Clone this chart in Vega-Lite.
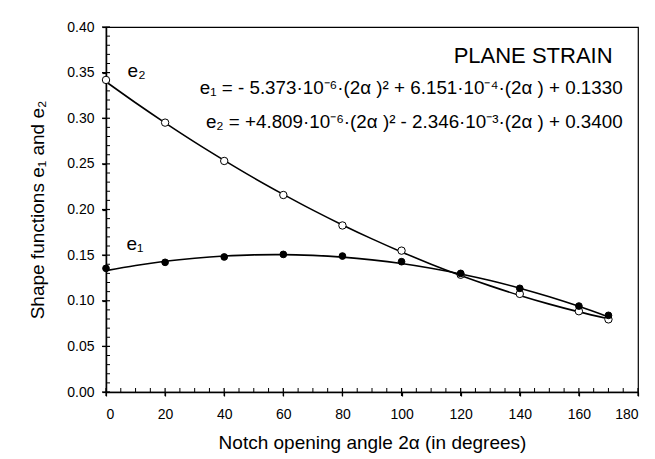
{
  "$schema": "https://vega.github.io/schema/vega-lite/v6.json",
  "width": 532,
  "height": 365,
  "autosize": {"type": "none"},
  "padding": {"left": 106, "top": 27, "right": 17, "bottom": 67},
  "background": "white",
  "config": {
    "view": {"stroke": "black", "strokeWidth": 1.2},
    "font": "Liberation Sans",
    "axis": {"domainColor": "black", "tickColor": "black", "labelColor": "black", "titleColor": "black", "grid": false, "labelFont": "Liberation Sans", "titleFont": "Liberation Sans", "titleFontWeight": "normal"}
  },
  "datasets": {
    "curves": [
      {"x": 0, "y": 0.1330, "series": "e1"}, {"x": 10, "y": 0.1386, "series": "e1"}, {"x": 20, "y": 0.1432, "series": "e1"}, {"x": 30, "y": 0.1466, "series": "e1"}, {"x": 40, "y": 0.1490, "series": "e1"}, {"x": 50, "y": 0.1503, "series": "e1"}, {"x": 60, "y": 0.1506, "series": "e1"}, {"x": 70, "y": 0.1497, "series": "e1"}, {"x": 80, "y": 0.1478, "series": "e1"}, {"x": 90, "y": 0.1448, "series": "e1"}, {"x": 100, "y": 0.1408, "series": "e1"}, {"x": 110, "y": 0.1356, "series": "e1"}, {"x": 120, "y": 0.1294, "series": "e1"}, {"x": 130, "y": 0.1222, "series": "e1"}, {"x": 140, "y": 0.1138, "series": "e1"}, {"x": 150, "y": 0.1044, "series": "e1"}, {"x": 160, "y": 0.0939, "series": "e1"}, {"x": 170, "y": 0.0823, "series": "e1"},
      {"x": 0, "y": 0.3400, "series": "e2"}, {"x": 10, "y": 0.3170, "series": "e2"}, {"x": 20, "y": 0.2950, "series": "e2"}, {"x": 30, "y": 0.2739, "series": "e2"}, {"x": 40, "y": 0.2539, "series": "e2"}, {"x": 50, "y": 0.2347, "series": "e2"}, {"x": 60, "y": 0.2166, "series": "e2"}, {"x": 70, "y": 0.1993, "series": "e2"}, {"x": 80, "y": 0.1831, "series": "e2"}, {"x": 90, "y": 0.1678, "series": "e2"}, {"x": 100, "y": 0.1535, "series": "e2"}, {"x": 110, "y": 0.1401, "series": "e2"}, {"x": 120, "y": 0.1277, "series": "e2"}, {"x": 130, "y": 0.1163, "series": "e2"}, {"x": 140, "y": 0.1058, "series": "e2"}, {"x": 150, "y": 0.0963, "series": "e2"}, {"x": 160, "y": 0.0878, "series": "e2"}, {"x": 170, "y": 0.0802, "series": "e2"}
    ],
    "e1pts": [
      {"x": 0, "y": 0.1355}, {"x": 20, "y": 0.1421}, {"x": 40, "y": 0.1480}, {"x": 60, "y": 0.1508}, {"x": 80, "y": 0.1490}, {"x": 100, "y": 0.1428}, {"x": 120, "y": 0.1300}, {"x": 140, "y": 0.1136}, {"x": 160, "y": 0.0942}, {"x": 170, "y": 0.0840}
    ],
    "e2pts": [
      {"x": 0, "y": 0.3420}, {"x": 20, "y": 0.2952}, {"x": 40, "y": 0.2532}, {"x": 60, "y": 0.2159}, {"x": 80, "y": 0.1825}, {"x": 100, "y": 0.1549}, {"x": 120, "y": 0.1285}, {"x": 140, "y": 0.1075}, {"x": 160, "y": 0.0885}, {"x": 170, "y": 0.0796}
    ],
    "xMajor": [{"v": 0}, {"v": 20}, {"v": 40}, {"v": 60}, {"v": 80}, {"v": 100}, {"v": 120}, {"v": 140}, {"v": 160}, {"v": 180}],
    "xMinor": [{"v": 5}, {"v": 10}, {"v": 15}, {"v": 25}, {"v": 30}, {"v": 35}, {"v": 45}, {"v": 50}, {"v": 55}, {"v": 65}, {"v": 70}, {"v": 75}, {"v": 85}, {"v": 90}, {"v": 95}, {"v": 105}, {"v": 110}, {"v": 115}, {"v": 125}, {"v": 130}, {"v": 135}, {"v": 145}, {"v": 150}, {"v": 155}, {"v": 165}, {"v": 170}, {"v": 175}],
    "yMajor": [{"v": 0}, {"v": 0.05}, {"v": 0.1}, {"v": 0.15}, {"v": 0.2}, {"v": 0.25}, {"v": 0.3}, {"v": 0.35}, {"v": 0.4}],
    "yMinor": [{"v": 0.01}, {"v": 0.02}, {"v": 0.03}, {"v": 0.04}, {"v": 0.06}, {"v": 0.07}, {"v": 0.08}, {"v": 0.09}, {"v": 0.11}, {"v": 0.12}, {"v": 0.13}, {"v": 0.14}, {"v": 0.16}, {"v": 0.17}, {"v": 0.18}, {"v": 0.19}, {"v": 0.21}, {"v": 0.22}, {"v": 0.23}, {"v": 0.24}, {"v": 0.26}, {"v": 0.27}, {"v": 0.28}, {"v": 0.29}, {"v": 0.31}, {"v": 0.32}, {"v": 0.33}, {"v": 0.34}, {"v": 0.36}, {"v": 0.37}, {"v": 0.38}, {"v": 0.39}],
    "curveLabels": [
      {"x": 6.9, "y": 0.1556, "label": "e₁"},
      {"x": 7.3, "y": 0.3452, "label": "e₂"}
    ],
    "equations": [
      {"x": 174.8, "y": 0.3268, "label": "e₁ = - 5.373·10⁻⁶·(2α )² + 6.151·10⁻⁴·(2α ) + 0.1330"},
      {"x": 174.8, "y": 0.2890, "label": "e₂ = +4.809·10⁻⁶·(2α )² - 2.346·10⁻³·(2α ) + 0.3400"}
    ],
    "heading": [
      {"x": 171.4, "y": 0.3605, "label": "PLANE STRAIN"}
    ]
  },
  "layer": [
    {
      "data": {"name": "curves"},
      "mark": {"type": "line", "color": "black", "strokeWidth": 1.6, "interpolate": "monotone"},
      "encoding": {
        "x": {"field": "x", "type": "quantitative", "scale": {"domain": [0, 180], "nice": false},
          "axis": {"orient": "bottom", "values": [0, 20, 40, 60, 80, 100, 120, 140, 160, 180], "tickSize": 4, "tickWidth": 1.2, "domainWidth": 1.5, "labelFontSize": 14, "labelPadding": 11, "title": "Notch opening angle 2α (in degrees)", "titleFontSize": 19, "titlePadding": 12}},
        "y": {"field": "y", "type": "quantitative", "scale": {"domain": [0, 0.4], "nice": false},
          "axis": {"orient": "left", "values": [0, 0.05, 0.1, 0.15, 0.2, 0.25, 0.3, 0.35, 0.4], "format": ".2f", "tickSize": 4, "tickWidth": 1.2, "domainWidth": 1.5, "labelFontSize": 14, "labelPadding": 8, "title": "Shape functions e₁ and e₂", "titleFontSize": 19, "titlePadding": 19}},
        "detail": {"field": "series", "type": "nominal"}
      }
    },
    {
      "data": {"name": "xMajor"},
      "mark": {"type": "tick", "orient": "vertical", "color": "black", "size": 8, "thickness": 1.2, "opacity": 1},
      "encoding": {
        "x": {"field": "v", "type": "quantitative"},
        "y": {"datum": 0, "type": "quantitative"}
      }
    },
    {
      "data": {"name": "xMinor"},
      "mark": {"type": "tick", "orient": "vertical", "color": "black", "size": 4, "thickness": 1, "yOffset": -2, "opacity": 1},
      "encoding": {
        "x": {"field": "v", "type": "quantitative"},
        "y": {"datum": 0, "type": "quantitative"}
      }
    },
    {
      "data": {"name": "yMajor"},
      "mark": {"type": "tick", "orient": "horizontal", "color": "black", "size": 8, "thickness": 1.2, "opacity": 1},
      "encoding": {
        "y": {"field": "v", "type": "quantitative"},
        "x": {"datum": 0, "type": "quantitative"}
      }
    },
    {
      "data": {"name": "yMinor"},
      "mark": {"type": "tick", "orient": "horizontal", "color": "black", "size": 4, "thickness": 1, "xOffset": 2, "opacity": 1},
      "encoding": {
        "y": {"field": "v", "type": "quantitative"},
        "x": {"datum": 0, "type": "quantitative"}
      }
    },
    {
      "data": {"name": "e2pts"},
      "mark": {"type": "point", "shape": "circle", "filled": true, "fill": "white", "stroke": "black", "strokeWidth": 1, "size": 55, "opacity": 1},
      "encoding": {
        "x": {"field": "x", "type": "quantitative"},
        "y": {"field": "y", "type": "quantitative"}
      }
    },
    {
      "data": {"name": "e1pts"},
      "mark": {"type": "point", "shape": "circle", "filled": true, "fill": "black", "stroke": "black", "strokeWidth": 1, "size": 45, "opacity": 1},
      "encoding": {
        "x": {"field": "x", "type": "quantitative"},
        "y": {"field": "y", "type": "quantitative"}
      }
    },
    {
      "data": {"name": "curveLabels"},
      "mark": {"type": "text", "align": "left", "baseline": "alphabetic", "fontSize": 19, "font": "Liberation Sans", "color": "black"},
      "encoding": {
        "x": {"field": "x", "type": "quantitative"},
        "y": {"field": "y", "type": "quantitative"},
        "text": {"field": "label"}
      }
    },
    {
      "data": {"name": "equations"},
      "mark": {"type": "text", "align": "right", "baseline": "alphabetic", "fontSize": 18.8, "font": "Liberation Sans", "color": "black"},
      "encoding": {
        "x": {"field": "x", "type": "quantitative"},
        "y": {"field": "y", "type": "quantitative"},
        "text": {"field": "label"}
      }
    },
    {
      "data": {"name": "heading"},
      "mark": {"type": "text", "align": "right", "baseline": "alphabetic", "fontSize": 22, "font": "Liberation Sans", "color": "black"},
      "encoding": {
        "x": {"field": "x", "type": "quantitative"},
        "y": {"field": "y", "type": "quantitative"},
        "text": {"field": "label"}
      }
    }
  ]
}
